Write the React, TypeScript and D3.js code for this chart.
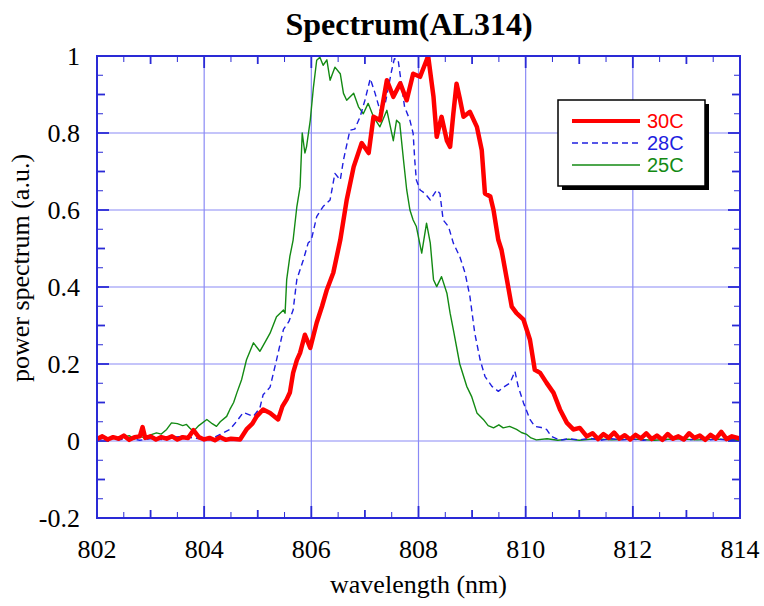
import * as d3 from 'd3'

const width = 764
const height = 606
const margin = { top: 56, right: 24, bottom: 88, left: 97 }
const serif = "'Liberation Serif', 'Times New Roman', Times, 'DejaVu Serif', serif"

// 30C (thick red)
const wl30 = [802.0, 802.1, 802.2, 802.3, 802.4, 802.5, 802.6, 802.7, 802.8, 802.85, 802.9, 803.0, 803.1, 803.2, 803.3, 803.4, 803.5, 803.6, 803.7, 803.8, 803.9, 804.0, 804.1, 804.2, 804.3, 804.4, 804.5, 804.67, 804.79, 804.9, 804.98, 805.1, 805.23, 805.38, 805.46, 805.54, 805.6, 805.66, 805.73, 805.79, 805.88, 805.98, 806.1, 806.2, 806.29, 806.41, 806.54, 806.66, 806.79, 806.94, 807.07, 807.16, 807.28, 807.41, 807.53, 807.66, 807.78, 807.9, 808.03, 808.15, 808.18, 808.28, 808.34, 808.43, 808.53, 808.59, 808.65, 808.71, 808.77, 808.84, 808.96, 809.09, 809.18, 809.24, 809.34, 809.4, 809.49, 809.55, 809.65, 809.74, 809.83, 809.96, 810.08, 810.17, 810.27, 810.39, 810.52, 810.64, 810.77, 810.89, 811.01, 811.14, 811.25, 811.35, 811.45, 811.55, 811.65, 811.75, 811.85, 811.95, 812.05, 812.15, 812.25, 812.35, 812.45, 812.55, 812.65, 812.75, 812.85, 812.95, 813.05, 813.15, 813.25, 813.35, 813.45, 813.55, 813.65, 813.75, 813.85, 814.0]
const p30 = [0.005, 0.012, 0.004, 0.01, 0.006, 0.014, 0.003, 0.01, 0.012, 0.036, 0.008, 0.012, 0.004, 0.01, 0.006, 0.012, 0.004, 0.01, 0.008, 0.028, 0.01, 0.004, 0.008, 0.002, 0.01, 0.003, 0.006, 0.004, 0.03, 0.045, 0.064, 0.082, 0.073, 0.056, 0.09, 0.108, 0.126, 0.177, 0.21, 0.229, 0.276, 0.242, 0.307, 0.35, 0.393, 0.437, 0.522, 0.626, 0.712, 0.774, 0.748, 0.842, 0.833, 0.937, 0.894, 0.929, 0.885, 0.954, 0.946, 0.989, 1.0, 0.894, 0.79, 0.842, 0.78, 0.764, 0.85, 0.928, 0.89, 0.842, 0.855, 0.816, 0.756, 0.643, 0.635, 0.6, 0.522, 0.496, 0.419, 0.349, 0.332, 0.315, 0.263, 0.185, 0.177, 0.151, 0.125, 0.082, 0.047, 0.03, 0.034, 0.012, 0.02, 0.005, 0.018, 0.008, 0.022, 0.006, 0.015, 0.004, 0.016, 0.007, 0.02, 0.005, 0.014, 0.003, 0.018, 0.006, 0.012, 0.004, 0.02, 0.008, 0.014, 0.003, 0.016, 0.006, 0.024, 0.005, 0.012, 0.006]

// 28C (dashed blue)
const wl28 = [802.0, 802.2, 802.4, 802.6, 802.8, 803.0, 803.2, 803.4, 803.6, 803.8, 804.0, 804.11, 804.3, 804.48, 804.6, 804.73, 804.92, 805.04, 805.1, 805.23, 805.35, 805.48, 805.58, 805.66, 805.73, 805.85, 805.94, 806.0, 806.1, 806.22, 806.35, 806.44, 806.54, 806.6, 806.72, 806.81, 806.91, 807.0, 807.1, 807.19, 807.28, 807.38, 807.5, 807.55, 807.62, 807.68, 807.74, 807.84, 807.9, 807.93, 807.96, 808.03, 808.12, 808.22, 808.34, 808.4, 808.46, 808.56, 808.65, 808.77, 808.87, 808.96, 809.05, 809.15, 809.24, 809.37, 809.49, 809.61, 809.71, 809.8, 809.86, 809.96, 810.08, 810.17, 810.29, 810.39, 810.48, 810.64, 810.8, 811.0, 811.2, 811.4, 811.6, 811.8, 812.0, 812.2, 812.4, 812.6, 812.8, 813.0, 813.2, 813.4, 813.6, 813.8, 814.0]
const p28 = [0.004, 0.008, 0.003, 0.007, 0.002, 0.006, 0.004, 0.01, 0.012, 0.008, 0.004, 0.004, 0.017, 0.03, 0.05, 0.074, 0.064, 0.086, 0.12, 0.14, 0.21, 0.29, 0.31, 0.34, 0.42, 0.47, 0.514, 0.522, 0.583, 0.609, 0.626, 0.695, 0.678, 0.73, 0.807, 0.81, 0.842, 0.885, 0.941, 0.903, 0.859, 0.877, 0.963, 0.993, 0.99, 0.928, 0.868, 0.833, 0.799, 0.73, 0.678, 0.652, 0.643, 0.626, 0.652, 0.643, 0.574, 0.557, 0.514, 0.479, 0.436, 0.375, 0.28, 0.211, 0.168, 0.142, 0.129, 0.142, 0.151, 0.181, 0.142, 0.099, 0.056, 0.038, 0.035, 0.03, 0.012, 0.002, 0.006, 0.003, 0.007, 0.002, 0.006, 0.003, 0.005, 0.002, 0.006, 0.003, 0.005, 0.002, 0.006, 0.003, 0.005, 0.002, 0.004]

// 25C (thin green)
const wl25 = [802.0, 802.1, 802.2, 802.3, 802.4, 802.5, 802.6, 802.7, 802.8, 802.9, 803.0, 803.11, 803.2, 803.3, 803.39, 803.5, 803.6, 803.67, 803.73, 803.8, 803.9, 804.05, 804.15, 804.23, 804.3, 804.42, 804.48, 804.55, 804.61, 804.7, 804.79, 804.92, 805.04, 805.15, 805.23, 805.35, 805.48, 805.51, 805.54, 805.6, 805.66, 805.73, 805.79, 805.83, 805.88, 805.91, 805.98, 806.04, 806.1, 806.16, 806.22, 806.29, 806.35, 806.44, 806.54, 806.6, 806.66, 806.79, 806.88, 806.97, 807.06, 807.16, 807.28, 807.41, 807.53, 807.59, 807.65, 807.72, 807.78, 807.84, 807.9, 807.96, 808.06, 808.15, 808.22, 808.28, 808.34, 808.43, 808.53, 808.59, 808.65, 808.77, 808.9, 808.99, 809.09, 809.21, 809.3, 809.4, 809.5, 809.58, 809.7, 809.83, 809.92, 810.02, 810.1, 810.2, 810.4, 810.6, 810.8, 811.0, 811.3, 811.6, 812.0, 812.4, 812.8, 813.2, 813.6, 814.0]
const p25 = [0.008, 0.015, 0.006, 0.012, 0.004, 0.01, 0.014, 0.005, 0.012, 0.008, 0.016, 0.021, 0.018, 0.03, 0.047, 0.045, 0.04, 0.043, 0.034, 0.025, 0.04, 0.056, 0.045, 0.038, 0.05, 0.064, 0.082, 0.1, 0.125, 0.16, 0.211, 0.255, 0.233, 0.26, 0.28, 0.323, 0.34, 0.332, 0.419, 0.48, 0.522, 0.609, 0.66, 0.8, 0.748, 0.764, 0.833, 0.92, 0.989, 0.997, 0.976, 0.99, 0.937, 0.971, 0.954, 0.903, 0.885, 0.903, 0.868, 0.85, 0.877, 0.842, 0.816, 0.859, 0.78, 0.833, 0.825, 0.73, 0.652, 0.6, 0.574, 0.557, 0.488, 0.566, 0.514, 0.419, 0.401, 0.427, 0.384, 0.332, 0.289, 0.2, 0.142, 0.116, 0.073, 0.056, 0.04, 0.034, 0.042, 0.034, 0.038, 0.03, 0.022, 0.017, 0.008, 0.003, 0.006, 0.002, 0.005, 0.002, 0.006, 0.003, 0.005, 0.002, 0.006, 0.003, 0.005, 0.002]

const xTicks = [802, 804, 806, 808, 810, 812, 814]
const yTicks = [-0.2, 0, 0.2, 0.4, 0.6, 0.8, 1]
const seriesNames = ['30C', '28C', '25C']

const gridColor = '#8a8af5'
const axisColor = '#2a2ad6'

function App() {
  const innerWidth = width - margin.left - margin.right
  const innerHeight = height - margin.top - margin.bottom

  const xScale = d3.scaleLinear().domain([802, 814]).range([0, innerWidth])
  const yScale = d3.scaleLinear().domain([-0.2, 1]).range([innerHeight, 0])

  const makePath = (xs: number[], ys: number[]) =>
    d3.line<number>()
      .x((_, i) => xScale(xs[i]))
      .y(v => yScale(v))(ys) || ''

  const series = [
    { name: seriesNames[2], d: makePath(wl25, p25), color: '#138a13', w: 1.4, dash: undefined },
    { name: seriesNames[1], d: makePath(wl28, p28), color: '#1f1fe0', w: 1.4, dash: '6,4' },
    { name: seriesNames[0], d: makePath(wl30, p30), color: '#ff0000', w: 4.5, dash: undefined },
  ]

  const xMinor = d3.range(802.5, 814, 0.5)
  const yMinor = d3.range(-0.15, 1, 0.05).map(v => Math.round(v * 100) / 100)
  const isMid = (v: number, step: number) => Math.abs(v / step - Math.round(v / step)) < 1e-6

  const legendRows = [
    { name: seriesNames[0], color: '#ff0000', w: 4, dash: undefined },
    { name: seriesNames[1], color: '#1f1fe0', w: 1.5, dash: '6,4' },
    { name: seriesNames[2], color: '#138a13', w: 1.5, dash: undefined },
  ]

  return (
    <svg width={width} height={height} style={{ position: 'absolute', left: 0, top: 0, background: '#fff' }}>
      <defs>
        <clipPath id="plot-clip">
          <rect x={0} y={0} width={innerWidth} height={innerHeight} />
        </clipPath>
      </defs>
      <text x={409} y={35} textAnchor="middle" style={{ fontFamily: serif }} fontWeight="bold" fontSize={32}>
        Spectrum(AL314)
      </text>
      <g transform={`translate(${margin.left},${margin.top})`}>
        {xTicks.slice(1, -1).map(t => (
          <line key={'gx' + t} x1={xScale(t)} x2={xScale(t)} y1={0} y2={innerHeight} stroke={gridColor} strokeWidth={1.2} />
        ))}
        {yTicks.slice(1, -1).map(t => (
          <line key={'gy' + t} x1={0} x2={innerWidth} y1={yScale(t)} y2={yScale(t)} stroke={gridColor} strokeWidth={1.2} />
        ))}
        {xMinor.filter(v => !isMid(v, 2)).map(v => {
          const len = isMid(v, 1) ? 8 : 6
          const sw = isMid(v, 1) ? 1.8 : 1
          return (
            <g key={'xm' + v}>
              <line x1={xScale(v)} x2={xScale(v)} y1={innerHeight} y2={innerHeight - len} stroke={axisColor} strokeWidth={sw} />
              <line x1={xScale(v)} x2={xScale(v)} y1={0} y2={len} stroke={axisColor} strokeWidth={sw} />
            </g>
          )
        })}
        {yMinor.filter(v => !isMid(v, 0.2)).map(v => {
          const len = isMid(v, 0.1) ? 8 : 6
          const sw = isMid(v, 0.1) ? 1.8 : 1
          return (
            <g key={'ym' + v}>
              <line x1={0} x2={len} y1={yScale(v)} y2={yScale(v)} stroke={axisColor} strokeWidth={sw} />
              <line x1={innerWidth} x2={innerWidth - len} y1={yScale(v)} y2={yScale(v)} stroke={axisColor} strokeWidth={sw} />
            </g>
          )
        })}
        {xTicks.slice(1, -1).map(t => (
          <g key={'xM' + t}>
            <line x1={xScale(t)} x2={xScale(t)} y1={innerHeight} y2={innerHeight - 12} stroke={axisColor} strokeWidth={1.8} />
            <line x1={xScale(t)} x2={xScale(t)} y1={0} y2={12} stroke={axisColor} strokeWidth={1.8} />
          </g>
        ))}
        {yTicks.slice(1, -1).map(t => (
          <g key={'yM' + t}>
            <line x1={0} x2={12} y1={yScale(t)} y2={yScale(t)} stroke={axisColor} strokeWidth={1.8} />
            <line x1={innerWidth} x2={innerWidth - 12} y1={yScale(t)} y2={yScale(t)} stroke={axisColor} strokeWidth={1.8} />
          </g>
        ))}
        <g clipPath="url(#plot-clip)">
          {series.map(s => (
            <path key={s.name} d={s.d} fill="none" stroke={s.color} strokeWidth={s.w}
              strokeDasharray={s.dash} strokeLinejoin="round" />
          ))}
        </g>
        <rect x={0} y={0} width={innerWidth} height={innerHeight} fill="none" stroke={axisColor} strokeWidth={2} />
        {xTicks.map(t => (
          <text key={'xl' + t} x={xScale(t)} y={innerHeight + 40} textAnchor="middle"
            style={{ fontFamily: serif }} fontSize={26}>{t}</text>
        ))}
        {yTicks.map(t => (
          <text key={'yl' + t} x={-17} y={yScale(t)} dy="0.34em" textAnchor="end"
            style={{ fontFamily: serif }} fontSize={26}>{t}</text>
        ))}
        <text x={innerWidth / 2} y={innerHeight + 75} textAnchor="middle" style={{ fontFamily: serif }} fontSize={26}>
          wavelength (nm)
        </text>
        <text transform={`translate(${29 - margin.left},${268 - margin.top}) rotate(-90)`} textAnchor="middle"
          style={{ fontFamily: serif }} fontSize={26}>
          power spectrum (a.u.)
        </text>
      </g>
      <g transform="translate(558,100)">
        <rect x={4} y={4} width={147} height={86} fill="#000" />
        <rect x={0} y={0} width={147} height={86} fill="#fff" stroke="#000" strokeWidth={1.5} />
        {legendRows.map((r, i) => (
          <g key={r.name} transform={`translate(0,${21 + i * 22})`}>
            <line x1={14} x2={82} y1={0} y2={0} stroke={r.color} strokeWidth={r.w} strokeDasharray={r.dash} />
            <text x={89} y={7} fill={r.color} fontFamily="Liberation Sans, Arial, sans-serif" fontSize={20}>{r.name}</text>
          </g>
        ))}
      </g>
    </svg>
  )
}

export default App
